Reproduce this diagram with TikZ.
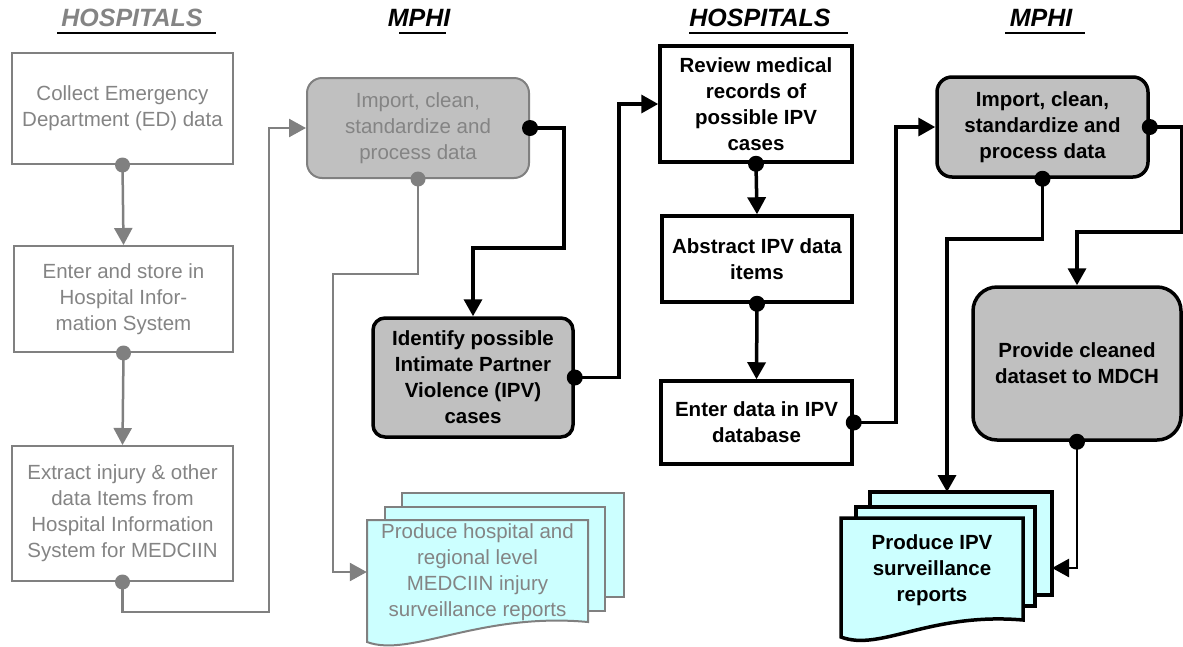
\documentclass[tikz,border=0pt]{standalone}
\usepackage{fontspec}
\setmainfont{Liberation Sans}
\usetikzlibrary{arrows.meta}
\definecolor{gline}{RGB}{128, 128, 128}
\definecolor{gtext}{RGB}{132, 132, 132}
\definecolor{gfill}{RGB}{192, 192, 192}
\definecolor{docfill}{RGB}{204, 255, 255}

\tikzset{
  txt/.style={font=\fontsize{20.5}{26}\selectfont, align=center, inner sep=0pt},
  greybox/.style={txt, draw=gline, line width=2, text=gtext},
  blackbox/.style={txt, draw=black, line width=3.5, font=\bfseries\fontsize{20.5}{26}\selectfont},
  head/.style={font=\bfseries\itshape\fontsize{25}{30}\selectfont, inner sep=0pt},
  uline/.style={line width=2.5},
  gdot/.style={circle, fill=gline, inner sep=0pt, minimum size=15},
  bdot/.style={circle, fill=black, inner sep=0pt, minimum size=16},
  garrow/.style={draw=gline, line width=2.5, -{Triangle[length=17pt, width=18pt]}},
  barrow/.style={line width=3.5, -{Triangle[length=17pt, width=18pt]}},
  docgrey/.style={fill=docfill, draw=gline, line width=2},
  docblack/.style={fill=docfill, draw=black, line width=3.5}
}

\begin{document}
\begin{tikzpicture}[x=1pt, y=-1pt]
  \useasboundingbox (0, 0) rectangle (1183, 646);

  % column heads
  \node[head, text=gtext] (hosp1) at (132, 18) {HOSPITALS};
  \node[head] (mphi1) at (419, 18) {MPHI};
  \node[head] (hosp2) at (760, 18) {HOSPITALS};
  \node[head] (mphi2) at (1041, 18) {MPHI};
  \draw[uline] (57, 33) -- (216, 33);
  \draw[uline] (399, 33) -- (446, 33);
  \draw[uline] (689, 33) -- (848, 33);
  \draw[uline] (1005, 33) -- (1085, 33);

  % hospitals, MEDCIIN
  \node[greybox, minimum width=221, minimum height=111] (collect) at (122.5, 108.5)
    {Collect Emergency\\Department (ED) data};
  \node[greybox, minimum width=219, minimum height=106] (store) at (123.5, 299)
    {Enter and store in\\Hospital Infor-\\mation System};
  \node[greybox, minimum width=221, minimum height=135] (extract) at (122.5, 513.5)
    {Extract injury \& other\\data Items from\\Hospital Information\\System for MEDCIIN};

  % mphi, first pass
  \node[greybox, fill=gfill, rounded corners=15, minimum width=222, minimum height=100] (import1) at (418, 128)
    {Import, clean,\\standardize and\\process data};
  \node[blackbox, fill=gfill, rounded corners=12, minimum width=200, minimum height=119] (identify) at (473, 377.5)
    {Identify possible\\Intimate Partner\\Violence (IPV)\\cases};

  % hospital report stack
  \fill[docgrey] (402, 493) rectangle (624, 597);
  \fill[docgrey] (385, 507) rectangle (605, 611);
  \filldraw[docgrey] (367, 520) -- (588, 520) -- (588, 622)
    .. controls (480, 612) and (410, 658) .. (367, 642) -- cycle;
  \node[txt, text=gtext, minimum width=221, minimum height=104] (hosprep) at (477.5, 572)
    {Produce hospital and\\regional level\\MEDCIIN injury\\surveillance reports};

  % hospitals, IPV
  \node[blackbox, minimum width=192, minimum height=116] (review) at (756, 104)
    {Review medical\\records of\\possible IPV\\cases};
  \node[blackbox, minimum width=190, minimum height=86] (abstract) at (757, 259)
    {Abstract IPV data\\items};
  \node[blackbox, minimum width=191, minimum height=83] (enter) at (756.5, 422.5)
    {Enter data in IPV\\database};

  % mphi, second pass
  \node[blackbox, fill=gfill, rounded corners=15, minimum width=211, minimum height=100] (import2) at (1042.5, 127)
    {Import, clean,\\standardize and\\process data};
  \node[blackbox, fill=gfill, rounded corners=24, minimum width=208, minimum height=153] (provide) at (1077, 363.5)
    {Provide cleaned\\dataset to MDCH};

  % IPV report stack
  \fill[docblack] (870, 492) rectangle (1052, 595);
  \fill[docblack] (856, 507) rectangle (1035, 606);
  \filldraw[docblack] (841, 518) -- (1023, 518) -- (1023, 620)
    .. controls (930, 612) and (880, 652) .. (841, 637) -- cycle;
  \node[txt, font=\bfseries\fontsize{20.5}{26}\selectfont, minimum width=182, minimum height=100] (ipvrep) at (932, 570)
    {Produce IPV\\surveillance\\reports};
  \coordinate (ipvtop) at (947, 492);
  \coordinate (ipvside) at (1052, 568);

  % connectors
  \draw[garrow] (collect.south) node[gdot]{} -- (store.north);
  \draw[garrow] (store.south) node[gdot]{} -- (extract.north);
  \draw[garrow] (extract.south) node[gdot]{} -- ++(0, 30) -| ([xshift=-37]import1.west) -- (import1.west);
  \draw[garrow] (import1.south) node[gdot]{} -- ++(0, 95) -| ([xshift=-34]hosprep.west) -- (hosprep.west);
  \draw[barrow] (import1.east) node[bdot]{} -- ++(34, 0) -- ++(0, 120) -| (identify.north);
  \draw[barrow] (identify.east) node[bdot]{} -- ++(44, 0) |- (review.west);
  \draw[barrow] (review.south) node[bdot]{} -- (abstract.north);
  \draw[barrow] (abstract.south) node[bdot]{} -- (enter.north);
  \draw[barrow] (enter.east) node[bdot]{} -- ++(42, 0) |- (import2.west);
  \draw[barrow] (import2.east) node[bdot]{} -- ++(32, 0) -- ++(0, 105) -| (provide.north);
  \draw[barrow] (import2.south) node[bdot]{} -- ++(0, 60) -| (ipvtop);
  \draw[barrow, line width=2.5] (provide.south) node[bdot]{} |- (ipvside);

\end{tikzpicture}
\end{document}
